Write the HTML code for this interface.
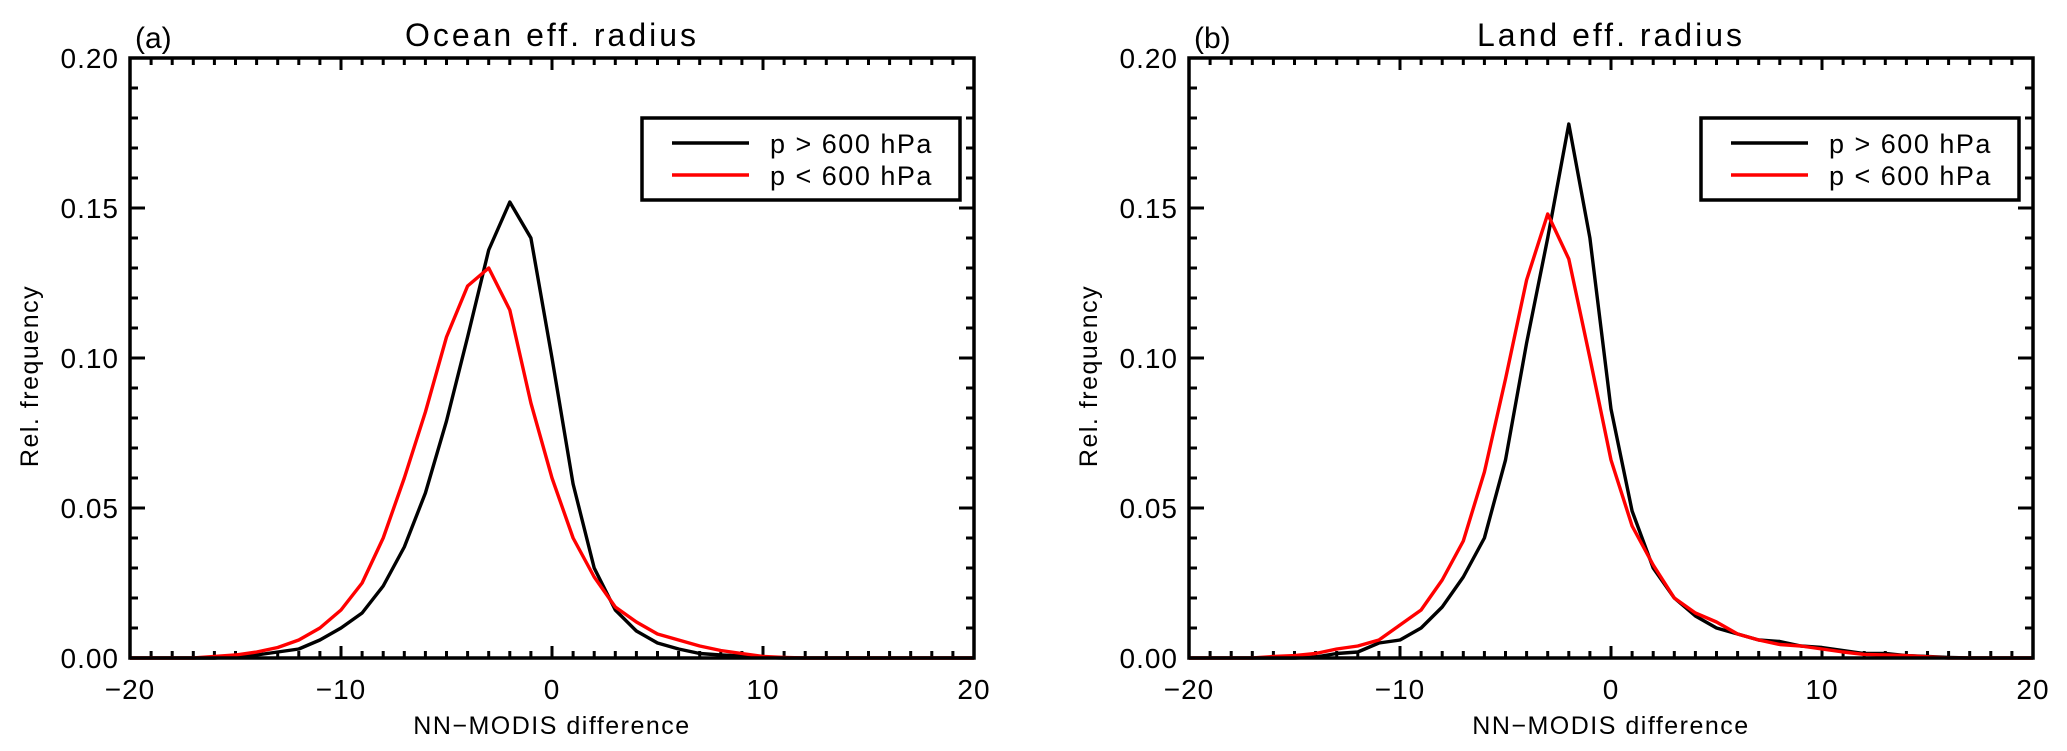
<!DOCTYPE html>
<html><head><meta charset="utf-8"><style>
html,body{margin:0;padding:0;background:#fff}
svg{display:block;font-family:"Liberation Sans",sans-serif}
</style></head><body>
<svg id="fig" width="2067" height="751" viewBox="0 0 2067 751"></svg>
<script>
const xCats = [];
for (let i = -20; i <= 20; i++) xCats.push(i);
const oceanHigh = [0,0,0,0,0,0.0005,0.001,0.002,0.003,0.006,0.010,0.015,0.024,0.037,0.055,0.079,0.107,0.136,0.152,0.140,0.100,0.058,0.030,0.016,0.009,0.005,0.003,0.0015,0.001,0.0007,0.0002,0,0,0,0,0,0,0,0,0,0];
const oceanLow = [0,0,0,0,0.0005,0.001,0.002,0.0035,0.006,0.010,0.016,0.025,0.040,0.060,0.082,0.107,0.124,0.130,0.116,0.085,0.060,0.040,0.027,0.017,0.012,0.008,0.006,0.004,0.0025,0.0015,0.0005,0.0002,0,0,0,0,0,0,0,0,0];
const landHigh = [0,0,0,0,0,0,0.0003,0.0015,0.002,0.005,0.006,0.010,0.017,0.027,0.040,0.066,0.105,0.140,0.178,0.140,0.083,0.049,0.030,0.020,0.014,0.010,0.008,0.006,0.0055,0.004,0.0035,0.0025,0.0015,0.0015,0.0008,0.0005,0.0002,0,0,0,0];
const landLow = [0,0,0,0,0.0005,0.0008,0.0015,0.003,0.004,0.006,0.011,0.016,0.026,0.039,0.062,0.093,0.126,0.148,0.133,0.100,0.066,0.044,0.031,0.020,0.015,0.012,0.008,0.006,0.0045,0.004,0.003,0.002,0.0012,0.001,0.0008,0.0004,0,0,0,0,0];
const xTickLabels = ["\u221220","\u221210","0","10","20"];
const xTickVals = [-20,-10,0,10,20];
const yTickLabels = ["0.00","0.05","0.10","0.15","0.20"];
const yTickVals = [0,0.05,0.10,0.15,0.20];
const legendLabels = ["p > 600 hPa","p < 600 hPa"];

const NS = "http://www.w3.org/2000/svg";
const svg = document.getElementById('fig');
function mk(tag, attrs, parent){
  const e = document.createElementNS(NS, tag);
  for (const k in attrs) e.setAttribute(k, attrs[k]);
  (parent||svg).appendChild(e);
  return e;
}
const T = 58, B = 658;
function panel(left, right, tag, title, hi, lo, key){
  const g = mk('g', {});
  
  
  const xs = v => left + (v + 20) / 40 * (right - left);
  const ys = v => B - v / 0.2 * (B - T);
  for (let i = -20; i <= 20; i++) {
    const L = (i % 10 === 0) ? 12 : 7;
    const x = xs(i);
    mk('line', {x1:x,y1:B,x2:x,y2:B-L,stroke:'#000','stroke-width':3}, g);
    mk('line', {x1:x,y1:T,x2:x,y2:T+L,stroke:'#000','stroke-width':3}, g);
  }
  for (let j = 0; j <= 20; j++) {
    const L = (j % 5 === 0) ? 15 : 8;
    const y = ys(j * 0.01);
    mk('line', {x1:left,y1:y,x2:left+L,y2:y,stroke:'#000','stroke-width':3}, g);
    mk('line', {x1:right,y1:y,x2:right-L,y2:y,stroke:'#000','stroke-width':3}, g);
  }
  const mkPath = (arr, color, name) => {
    const d = arr.map((v, i) => (i ? 'L' : 'M') + xs(xCats[i]).toFixed(1) + ',' + ys(v).toFixed(1)).join(' ');
    const p = mk('path', {d:d, fill:'none', stroke:color, 'stroke-width':3.4, 'stroke-linejoin':'round'}, g);
    
    
  };
  mkPath(hi, '#000', key + '-line-p-gt-600');
  mkPath(lo, '#f00', key + '-line-p-lt-600');
  const fr = mk('rect', {x:left,y:T,width:right-left,height:B-T,fill:'none',stroke:'#000','stroke-width':3.5}, g);
  
  
  xTickVals.forEach((v, i) => {
    const t = mk('text', {x:xs(v),y:699,'font-size':28,'text-anchor':'middle','letter-spacing':1}, g);
    t.textContent = xTickLabels[i];
    
    
  });
  yTickVals.forEach((v, i) => {
    const t = mk('text', {x:left-11,y:ys(v)+10,'font-size':28,'text-anchor':'end','letter-spacing':1}, g);
    t.textContent = yTickLabels[i];
    
    
  });
  const xt = mk('text', {x:(left+right)/2,y:734,'font-size':25,'text-anchor':'middle','letter-spacing':1.5}, g);
  xt.textContent = 'NN\u2212MODIS difference';
  
  
  const yt = mk('text', {x:0,y:0,'font-size':25,'text-anchor':'middle','letter-spacing':1.5,transform:'translate('+(left-92)+','+(376)+') rotate(-90)'}, g);
  yt.textContent = 'Rel. frequency';
  
  
  const tt = mk('text', {x:(left+right)/2,y:46,'font-size':32,'text-anchor':'middle','letter-spacing':3}, g);
  tt.textContent = title;
  
  
  const tg = mk('text', {x:left+5,y:48,'font-size':30}, g);
  tg.textContent = tag;
  
  
  const lx = left + 512, ly = 118;
  const lg = mk('g', {}, g);
  
  
  mk('rect', {x:lx,y:ly,width:318,height:82,fill:'#fff',stroke:'#000','stroke-width':3.5}, lg);
  const cols = ['#000','#f00'];
  legendLabels.forEach((lab, i) => {
    const y = ly + 25 + i * 32;
    const ln = mk('line', {x1:lx+30,y1:y,x2:lx+107,y2:y,stroke:cols[i],'stroke-width':3.4}, lg);
    
    
    const t = mk('text', {x:lx+128,y:y+10,'font-size':27,'letter-spacing':1.5,'xml:space':'preserve'}, lg);
    t.textContent = lab.replace(/ /g, '  ');
    
    
  });
}
panel(130, 974, '(a)', 'Ocean eff. radius', oceanHigh, oceanLow, 'ocean');
panel(1189, 2033, '(b)', 'Land eff. radius', landHigh, landLow, 'land');
</script>
</body></html>
